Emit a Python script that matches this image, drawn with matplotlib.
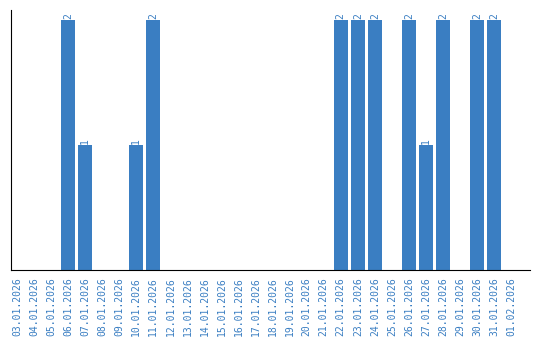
import matplotlib
matplotlib.use("Agg")
import matplotlib.pyplot as plt

dates = ['03.01.2026', '04.01.2026', '05.01.2026', '06.01.2026', '07.01.2026',
         '08.01.2026', '09.01.2026', '10.01.2026', '11.01.2026', '12.01.2026',
         '13.01.2026', '14.01.2026', '15.01.2026', '16.01.2026', '17.01.2026',
         '18.01.2026', '19.01.2026', '20.01.2026', '21.01.2026', '22.01.2026',
         '23.01.2026', '24.01.2026', '25.01.2026', '26.01.2026', '27.01.2026',
         '28.01.2026', '29.01.2026', '30.01.2026', '31.01.2026', '01.02.2026']
counts = [0, 0, 0, 2, 1, 0, 0, 1, 2, 0,
          0, 0, 0, 0, 0, 0, 0, 0, 0, 2,
          2, 2, 0, 2, 1, 2, 0, 2, 2, 0]

blue = '#3a7ec2'

fig = plt.figure(figsize=(5.4, 3.4), dpi=100)
ax = fig.add_axes([11 / 540, 70 / 340, 519 / 540, 260 / 340])

x = list(range(len(dates)))
ax.bar(x, counts, width=0.82, color=blue)

# value labels above non-zero bars
for xi, v in zip(x, counts):
    if v > 0:
        ax.text(xi, v + 0.01, str(v), rotation=90, ha='center', va='bottom',
                color=blue, fontsize=7, family='DejaVu Sans Mono')

ax.set_xlim(-0.35, 30.1)
ax.set_ylim(0, 2.08)
ax.set_xticks(x)
ax.set_xticklabels(dates, rotation=90, color=blue, fontsize=7,
                   family='DejaVu Sans Mono')
ax.tick_params(axis='x', length=0, pad=5)
ax.set_yticks([])
ax.spines['top'].set_visible(False)
ax.spines['right'].set_visible(False)

fig.savefig('out.png', dpi=100)
